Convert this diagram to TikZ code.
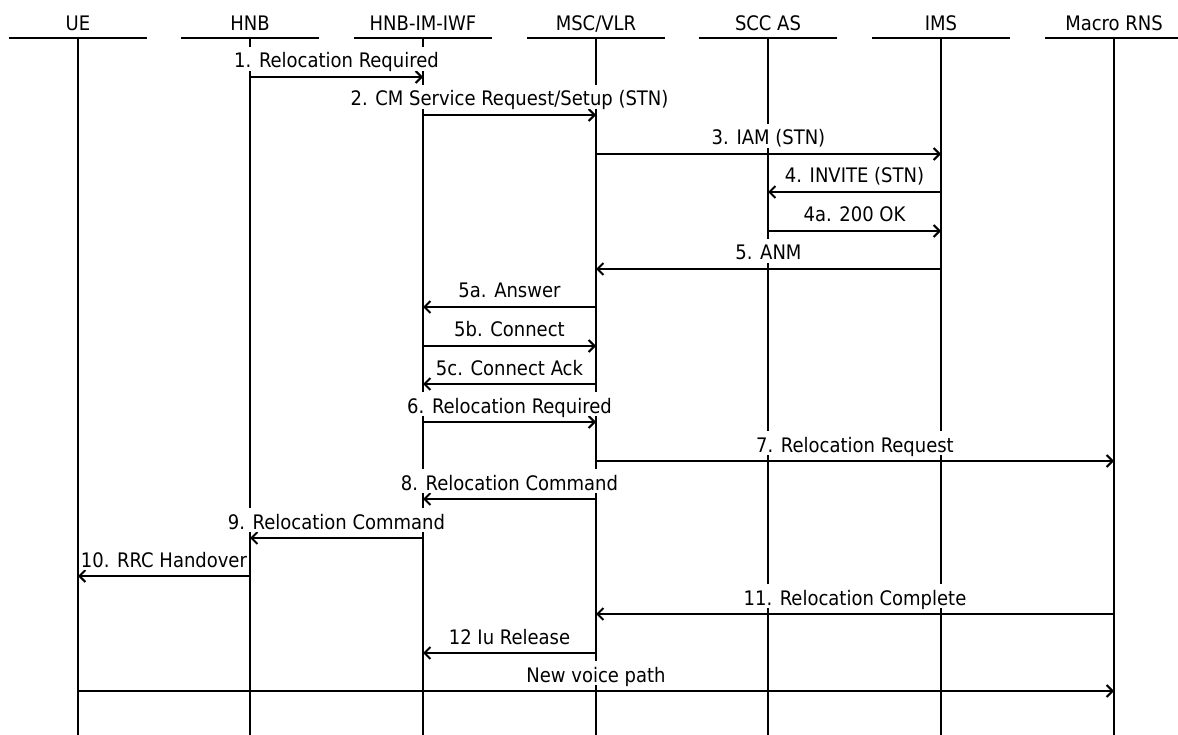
\documentclass[tikz,border=0pt]{standalone}
\usepackage{fontspec}
\setmainfont{DejaVu Sans Condensed}
\usetikzlibrary{arrows.meta,calc}
\tikzset{
  life/.style={line width=2pt,draw=black},
  msg/.style={-{Straight Barb[length=6pt,width=12pt]},line width=2pt,draw=black},
  lbl/.style={fill=white,inner xsep=1pt,inner ysep=1pt,text height=20pt,text depth=2pt,anchor=base,yshift=9pt},
  head/.style={anchor=base,inner sep=0pt}
}
\begin{document}
\begin{tikzpicture}[x=1pt,y=-1pt,font=\fontsize{20}{24}\selectfont]
  \useasboundingbox (0,0) rectangle (1178,735);
  \node[head] (ue) at (78,31) {UE};
  \node[head] (hnb) at (250,31) {HNB};
  \node[head] (iwf) at (423,31) {HNB-IM-IWF};
  \node[head] (msc) at (596,31) {MSC/VLR};
  \node[head] (scc) at (768,31) {SCC AS};
  \node[head] (ims) at (941,31) {IMS};
  \node[head] (rns) at (1114,31) {Macro RNS};
  \foreach \n in {ue,hnb,iwf,msc,scc,ims,rns}{
    \coordinate (\n-top) at (\n.base |- 0,38);
    \coordinate (\n-end) at (\n.base |- 0,735);
    \draw[life] ($(\n-top)+(-69,0)$) -- ($(\n-top)+(69,0)$);
    \draw[life] (\n-top) -- (\n-end);
  }
  \foreach \k in {1,...,17} \coordinate (r\k) at (0,{77+round(38.375*(\k-1))});
  \draw[msg] (hnb-top |- r1) -- node[lbl] {1. Relocation Required} (iwf-top |- r1);
  \draw[msg] (iwf-top |- r2) -- node[lbl] {2. CM Service Request/Setup (STN)} (msc-top |- r2);
  \draw[msg] (msc-top |- r3) -- node[lbl] {3. IAM (STN)} (ims-top |- r3);
  \draw[msg] (ims-top |- r4) -- node[lbl] {4. INVITE (STN)} (scc-top |- r4);
  \draw[msg] (scc-top |- r5) -- node[lbl] {4a. 200 OK} (ims-top |- r5);
  \draw[msg] (ims-top |- r6) -- node[lbl] {5. ANM} (msc-top |- r6);
  \draw[msg] (msc-top |- r7) -- node[lbl] {5a. Answer} (iwf-top |- r7);
  \draw[msg] (iwf-top |- r8) -- node[lbl] {5b. Connect} (msc-top |- r8);
  \draw[msg] (msc-top |- r9) -- node[lbl] {5c. Connect Ack} (iwf-top |- r9);
  \draw[msg] (iwf-top |- r10) -- node[lbl] {6. Relocation Required} (msc-top |- r10);
  \draw[msg] (msc-top |- r11) -- node[lbl] {7. Relocation Request} (rns-top |- r11);
  \draw[msg] (msc-top |- r12) -- node[lbl] {8. Relocation Command} (iwf-top |- r12);
  \draw[msg] (iwf-top |- r13) -- node[lbl] {9. Relocation Command} (hnb-top |- r13);
  \draw[msg] (hnb-top |- r14) -- node[lbl] {10. RRC Handover} (ue-top |- r14);
  \draw[msg] (rns-top |- r15) -- node[lbl] {11. Relocation Complete} (msc-top |- r15);
  \draw[msg] (msc-top |- r16) -- node[lbl] {12 Iu Release} (iwf-top |- r16);
  \draw[msg] (ue-top |- r17) -- node[lbl] {New voice path} (rns-top |- r17);
\end{tikzpicture}
\end{document}
